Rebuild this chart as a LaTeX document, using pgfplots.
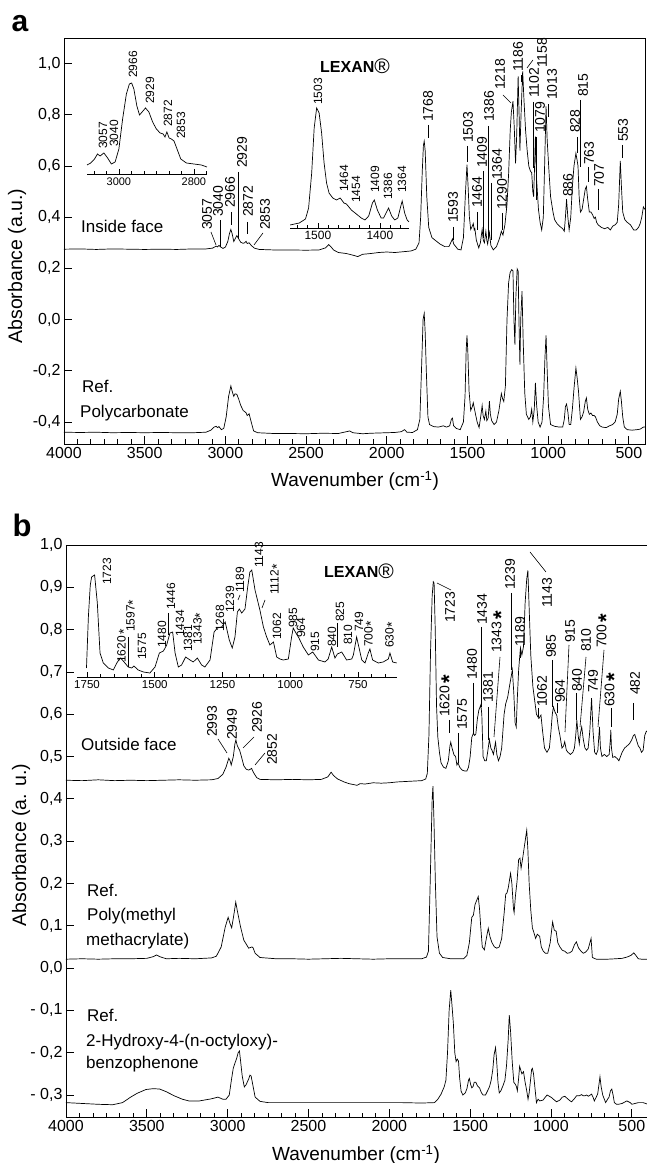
\documentclass[border=0pt]{standalone}
\usepackage{pgfplots}
\pgfplotsset{compat=1.18}
\usepackage{fontspec}
\setmainfont{Liberation Sans}
\newcommand{\fs}[1]{\fontsize{#1}{#1}\selectfont}
\newcommand{\bst}{\,{\fs{22}\bfseries\raisebox{-0.33em}{*}}}
\newcommand{\sst}{{\fs{14}\raisebox{-0.22em}{*}}}
\newcommand{\lexan}{\textbf{LEXAN}{\fs{21}\mdseries\raisebox{-0.04em}{®}}}
\begin{document}
\begin{tikzpicture}
\useasboundingbox (0,0) rectangle (646pt,1163pt);
\pgfplotsset{
 mainax/.style={scale only axis, anchor=south west, x dir=reverse,
   xmin=400, xmax=4000, xtick={500,1000,1500,2000,2500,3000,3500,4000},
   xticklabels={500,1000,1500,2000,2500,3000,3500,4000},
   minor x tick num=5, tick align=inside, xtick pos=bottom, ytick pos=left,
   major tick length=8pt, minor tick length=4.5pt,
   every tick/.style={black, line width=0.8pt},
   axis line style={line width=0.9pt},
   tick label style={font=\fs{16}}},
 insax/.style={scale only axis, anchor=south west, x dir=reverse,
   axis x line=bottom, axis y line=none, ymin=0,
   axis line style={-, line width=0.8pt}, tick align=inside,
   major tick length=5pt, minor tick length=3pt,
   every tick/.style={black, line width=0.7pt},
   tick label style={font=\fs{11}}},
 spec/.style={black, line width=0.7pt, mark=none}
}
% ---------------- panel a ----------------
\begin{axis}[mainax, at={(64pt,719pt)}, width=581pt, height=406pt,
  ymin=-0.486, ymax=1.1, ytick={-0.4,-0.2,0,0.2,0.4,0.6,0.8,1.0},
  yticklabels={{-0,4},{-0,2},{0,0},{0,2},{0,4},{0,6},{0,8},{1,0}}]
% Inside face
\addplot[spec] coordinates {
(4000,0.275)(3900,0.276)(3800,0.274)(3700,0.276)(3600,0.275)(3500,0.274)(3400,0.275)(3300,0.274)(3200,0.276)(3120,0.276)
(3080,0.279)(3065,0.284)(3057,0.287)(3048,0.284)(3040,0.290)(3030,0.284)(3015,0.278)(3000,0.283)(2985,0.305)(2975,0.335)
(2966,0.352)(2958,0.335)(2948,0.305)(2940,0.315)(2929,0.328)(2918,0.316)(2905,0.302)(2890,0.298)(2880,0.300)(2872,0.306)
(2865,0.297)(2853,0.300)(2840,0.290)(2820,0.279)(2790,0.274)(2700,0.272)(2600,0.272)(2500,0.271)(2420,0.272)(2380,0.280)
(2360,0.293)(2345,0.284)(2330,0.272)(2300,0.262)(2250,0.258)(2200,0.250)(2180,0.246)(2150,0.255)(2100,0.258)(2050,0.262)
(2000,0.264)(1950,0.262)(1900,0.265)(1850,0.268)(1820,0.275)(1800,0.300)(1790,0.40)(1780,0.58)(1773,0.68)(1768,0.697)
(1762,0.66)(1752,0.48)(1740,0.36)(1720,0.32)(1700,0.31)(1670,0.295)(1640,0.285)(1615,0.285)(1600,0.305)(1593,0.315)
(1585,0.295)(1560,0.275)(1540,0.272)(1525,0.32)(1512,0.50)(1503,0.605)(1496,0.52)(1488,0.40)(1480,0.352)(1470,0.365)
(1464,0.375)(1458,0.35)(1454,0.355)(1445,0.31)(1430,0.28)(1420,0.30)(1409,0.352)(1402,0.31)(1395,0.30)(1386,0.345)
(1380,0.31)(1375,0.295)(1364,0.34)(1355,0.29)(1340,0.272)(1320,0.285)(1300,0.32)(1290,0.345)(1280,0.33)(1268,0.37)
(1255,0.45)(1245,0.57)(1235,0.74)(1228,0.81)(1218,0.853)(1210,0.75)(1202,0.61)(1195,0.72)(1186,0.95)(1180,0.80)
(1175,0.66)(1168,0.80)(1158,0.97)(1150,0.86)(1140,0.74)(1130,0.66)(1120,0.60)(1110,0.58)(1102,0.574)(1095,0.50)
(1090,0.48)(1084,0.60)(1079,0.715)(1072,0.55)(1060,0.43)(1050,0.38)(1040,0.35)(1030,0.40)(1020,0.65)(1013,0.833)
(1006,0.70)(995,0.58)(985,0.48)(970,0.42)(960,0.39)(945,0.375)(930,0.365)(910,0.355)(900,0.345)(893,0.40)
(886,0.47)(878,0.40)(870,0.35)(860,0.40)(850,0.52)(840,0.60)(828,0.65)(820,0.62)(815,0.60)(808,0.48)
(800,0.42)(790,0.43)(780,0.47)(770,0.51)(763,0.52)(755,0.47)(745,0.42)(735,0.42)(725,0.41)(715,0.395)
(707,0.40)(700,0.38)(690,0.37)(670,0.36)(650,0.355)(630,0.36)(615,0.35)(600,0.365)(585,0.37)(572,0.38)
(563,0.45)(553,0.62)(546,0.52)(538,0.42)(525,0.39)(510,0.38)(490,0.37)(470,0.35)(455,0.35)(440,0.36)
(430,0.375)(420,0.40)(410,0.44)(400,0.43)};
% Ref. polycarbonate
\addplot[spec] coordinates {
(4000,-0.440)(3900,-0.441)(3800,-0.440)(3700,-0.442)(3600,-0.441)(3500,-0.442)(3400,-0.441)(3300,-0.442)(3200,-0.442)(3120,-0.440)
(3090,-0.432)(3070,-0.420)(3057,-0.417)(3048,-0.422)(3040,-0.418)(3025,-0.430)(3010,-0.425)(2995,-0.38)(2980,-0.30)(2966,-0.259)
(2958,-0.28)(2948,-0.30)(2940,-0.29)(2929,-0.292)(2918,-0.31)(2905,-0.335)(2890,-0.355)(2880,-0.36)(2872,-0.364)(2865,-0.375)
(2853,-0.368)(2840,-0.40)(2825,-0.435)(2800,-0.442)(2700,-0.445)(2600,-0.445)(2500,-0.446)(2400,-0.444)(2300,-0.445)(2250,-0.438)
(2230,-0.435)(2210,-0.442)(2150,-0.446)(2100,-0.444)(2000,-0.442)(1950,-0.441)(1910,-0.438)(1890,-0.430)(1875,-0.440)(1840,-0.441)
(1810,-0.43)(1795,-0.39)(1785,-0.20)(1775,0.0)(1768,0.024)(1762,-0.05)(1755,-0.20)(1745,-0.38)(1735,-0.41)(1710,-0.418)
(1680,-0.42)(1650,-0.415)(1630,-0.42)(1610,-0.415)(1600,-0.39)(1593,-0.385)(1586,-0.415)(1570,-0.425)(1545,-0.43)(1525,-0.40)
(1515,-0.30)(1508,-0.12)(1503,-0.062)(1498,-0.12)(1490,-0.28)(1480,-0.355)(1470,-0.34)(1464,-0.325)(1458,-0.345)(1450,-0.37)
(1440,-0.40)(1428,-0.422)(1418,-0.38)(1409,-0.336)(1403,-0.375)(1395,-0.39)(1386,-0.357)(1380,-0.395)(1372,-0.385)(1364,-0.319)
(1358,-0.37)(1350,-0.395)(1335,-0.41)(1320,-0.40)(1305,-0.355)(1290,-0.289)(1282,-0.31)(1275,-0.32)(1265,-0.26)(1255,0.0)
(1245,0.144)(1236,0.183)(1226,0.195)(1218,0.19)(1212,0.0)(1206,-0.098)(1200,0.09)(1192,0.198)(1186,0.19)(1181,0.0)
(1175,-0.176)(1170,0.0)(1162,0.111)(1155,-0.078)(1145,-0.286)(1135,-0.37)(1120,-0.39)(1110,-0.38)(1102,-0.35)(1095,-0.40)
(1086,-0.35)(1079,-0.247)(1072,-0.33)(1062,-0.40)(1050,-0.42)(1038,-0.40)(1028,-0.30)(1020,-0.15)(1013,-0.062)(1006,-0.20)
(998,-0.34)(985,-0.41)(960,-0.417)(930,-0.42)(910,-0.42)(900,-0.39)(893,-0.34)(886,-0.33)(878,-0.36)(870,-0.41)
(860,-0.41)(850,-0.35)(840,-0.27)(828,-0.189)(820,-0.23)(812,-0.28)(800,-0.39)(790,-0.38)(780,-0.36)(770,-0.32)
(763,-0.306)(755,-0.35)(745,-0.37)(735,-0.365)(725,-0.375)(715,-0.375)(707,-0.38)(695,-0.40)(680,-0.415)(665,-0.42)
(640,-0.422)(620,-0.415)(600,-0.41)(585,-0.40)(572,-0.37)(563,-0.31)(553,-0.28)(546,-0.32)(538,-0.38)(528,-0.42)
(510,-0.43)(480,-0.432)(450,-0.43)(430,-0.428)(410,-0.42)(400,-0.42)};
\end{axis}
% inset a1
\begin{axis}[insax, at={(87pt,989pt)}, width=120pt, height=100pt,
  xmin=2765, xmax=3085, ymax=100, xtick={2800,3000}, xticklabels={2800,3000},
  minor xtick={2766.67,2833.33,2866.67,2900,2933.33,2966.67,3033.33,3066.67}]
\addplot[spec] coordinates {
(3085,9)(3075,11)(3065,15)(3057,20)(3050,18)(3040,21)(3030,16)(3020,10)(3010,12)(3000,25)
(2990,55)(2980,80)(2972,90)(2966,91)(2960,85)(2952,68)(2945,59)(2938,62)(2929,66)(2920,62)
(2910,52)(2900,45)(2890,41)(2882,40)(2877,37)(2872,42)(2866,36)(2860,35)(2853,33)(2845,25)
(2835,15)(2820,11)(2800,10)(2780,9)(2765,7)};
\end{axis}
% inset a2
\begin{axis}[insax, at={(290pt,935pt)}, width=119pt, height=130pt,
  xmin=1353, xmax=1545, ymax=130, xtick={1400,1500}, xticklabels={1400,1500},
  tick label style={font=\fs{12}},
  minor xtick={1366.67,1383.33,1416.67,1433.33,1450,1466.67,1483.33,1516.67,1533.33}]
\addplot[spec] coordinates {
(1545,3)(1530,5)(1520,9)(1515,20)(1510,55)(1506,100)(1502,120)(1498,115)(1494,95)(1490,65)
(1486,45)(1482,35)(1476,30)(1470,28)(1464,30)(1458,25)(1454,24)(1446,18)(1438,14)(1430,10)
(1424,8)(1418,12)(1412,25)(1409,28)(1404,18)(1398,10)(1394,10)(1390,15)(1386,20)(1381,12)
(1376,8)(1371,10)(1367,20)(1364,27)(1360,15)(1356,8)(1353,6)};
\end{axis}
% ---------------- panel b ----------------
\begin{axis}[mainax, at={(66pt,46pt)}, width=582pt, height=572pt,
  ymin=-0.352, ymax=1.0,
  ytick={-0.3,-0.2,-0.1,0,0.1,0.2,0.3,0.4,0.5,0.6,0.7,0.8,0.9,1.0},
  yticklabels={{- 0,3},{- 0,2},{- 0,1},{0,0},{0,1},{0,2},{0,3},{0,4},{0,5},{0,6},{0,7},{0,8},{0,9},{1,0}}]
% Outside face
\addplot[spec] coordinates {
(4000,0.444)(3900,0.443)(3800,0.445)(3700,0.443)(3600,0.444)(3500,0.443)(3400,0.444)(3300,0.445)(3200,0.444)(3100,0.445)
(3060,0.448)(3030,0.458)(3010,0.475)(2993,0.496)(2985,0.49)(2978,0.480)(2965,0.50)(2955,0.53)(2949,0.539)(2940,0.525)
(2926,0.515)(2915,0.50)(2900,0.478)(2885,0.470)(2870,0.468)(2860,0.470)(2852,0.472)(2840,0.462)(2820,0.450)(2800,0.446)
(2700,0.445)(2600,0.446)(2500,0.445)(2420,0.446)(2380,0.452)(2360,0.463)(2345,0.455)(2320,0.447)(2280,0.440)(2250,0.436)
(2200,0.432)(2180,0.436)(2150,0.435)(2100,0.438)(2050,0.437)(2000,0.438)(1950,0.440)(1900,0.441)(1850,0.442)(1800,0.443)
(1775,0.447)(1765,0.46)(1755,0.55)(1745,0.75)(1735,0.88)(1728,0.913)(1723,0.91)(1716,0.80)(1708,0.62)(1700,0.546)
(1690,0.51)(1680,0.485)(1665,0.475)(1650,0.472)(1635,0.49)(1625,0.525)(1620,0.534)(1612,0.52)(1600,0.504)(1590,0.50)
(1582,0.48)(1575,0.485)(1565,0.475)(1550,0.468)(1535,0.466)(1520,0.466)(1510,0.475)(1500,0.50)(1490,0.545)(1480,0.555)
(1472,0.55)(1465,0.553)(1455,0.59)(1446,0.61)(1434,0.622)(1428,0.60)(1420,0.50)(1410,0.49)(1400,0.49)(1392,0.51)
(1381,0.54)(1372,0.52)(1365,0.515)(1356,0.505)(1343,0.534)(1335,0.505)(1325,0.49)(1315,0.50)(1305,0.52)(1290,0.60)
(1280,0.625)(1268,0.64)(1255,0.67)(1239,0.705)(1230,0.65)(1222,0.58)(1215,0.57)(1208,0.64)(1200,0.705)(1189,0.757)
(1180,0.74)(1170,0.76)(1160,0.863)(1150,0.92)(1143,0.94)(1135,0.85)(1125,0.74)(1112,0.665)(1100,0.63)(1090,0.60)
(1075,0.59)(1062,0.598)(1052,0.56)(1040,0.52)(1025,0.51)(1010,0.52)(1000,0.56)(992,0.60)(985,0.617)(975,0.605)
(964,0.597)(955,0.57)(945,0.55)(932,0.52)(922,0.525)(915,0.535)(905,0.515)(895,0.51)(880,0.505)(865,0.51)
(855,0.52)(847,0.55)(840,0.586)(832,0.55)(825,0.53)(818,0.555)(810,0.57)(800,0.54)(790,0.52)(780,0.515)
(770,0.52)(760,0.56)(749,0.638)(740,0.56)(730,0.51)(720,0.505)(710,0.515)(700,0.57)(694,0.52)(685,0.50)
(670,0.505)(655,0.50)(640,0.505)(632,0.545)(630,0.563)(626,0.52)(618,0.498)(605,0.50)(590,0.495)(580,0.49)
(570,0.50)(560,0.51)(545,0.52)(530,0.525)(515,0.53)(500,0.54)(490,0.55)(482,0.552)(472,0.54)(460,0.525)
(450,0.52)(440,0.51)(430,0.515)(420,0.55)(410,0.56)(400,0.557)};
% Ref. PMMA
\addplot[spec] coordinates {
(4000,0.021)(3900,0.022)(3800,0.021)(3700,0.022)(3600,0.022)(3500,0.023)(3460,0.027)(3440,0.031)(3420,0.027)(3380,0.022)
(3300,0.023)(3200,0.022)(3100,0.024)(3070,0.028)(3040,0.05)(3015,0.097)(2997,0.12)(2985,0.105)(2975,0.095)(2960,0.13)
(2950,0.156)(2940,0.135)(2920,0.097)(2900,0.066)(2870,0.047)(2850,0.050)(2843,0.048)(2830,0.035)(2800,0.025)(2700,0.022)
(2600,0.022)(2500,0.021)(2400,0.022)(2300,0.023)(2200,0.022)(2100,0.021)(2000,0.022)(1900,0.022)(1800,0.022)(1770,0.026)
(1758,0.04)(1748,0.19)(1735,0.40)(1730,0.430)(1724,0.35)(1715,0.20)(1705,0.074)(1690,0.035)(1670,0.025)(1620,0.022)
(1540,0.022)(1520,0.03)(1505,0.06)(1490,0.12)(1480,0.125)(1470,0.15)(1450,0.169)(1442,0.14)(1435,0.10)(1425,0.05)
(1412,0.043)(1400,0.07)(1388,0.094)(1378,0.075)(1365,0.06)(1350,0.05)(1335,0.047)(1320,0.05)(1305,0.07)(1290,0.129)
(1280,0.175)(1272,0.178)(1264,0.19)(1250,0.224)(1242,0.20)(1232,0.14)(1228,0.131)(1220,0.17)(1210,0.205)(1200,0.257)
(1192,0.26)(1185,0.236)(1175,0.26)(1160,0.30)(1150,0.326)(1143,0.28)(1135,0.20)(1125,0.137)(1115,0.095)(1105,0.083)
(1095,0.07)(1085,0.08)(1070,0.075)(1060,0.05)(1048,0.04)(1035,0.035)(1020,0.035)(1005,0.06)(990,0.109)(980,0.09)
(968,0.087)(958,0.06)(945,0.05)(930,0.042)(915,0.04)(900,0.035)(885,0.036)(870,0.04)(855,0.055)(843,0.062)
(830,0.048)(815,0.04)(800,0.035)(785,0.038)(770,0.045)(752,0.07)(744,0.025)(720,0.021)(700,0.021)(650,0.021)
(600,0.022)(560,0.023)(530,0.026)(505,0.03)(488,0.036)(475,0.03)(460,0.022)(440,0.021)(400,0.021)};
% Ref. benzophenone
\addplot[spec] coordinates {
(4000,-0.318)(3900,-0.320)(3800,-0.322)(3711,-0.323)(3650,-0.318)(3600,-0.305)(3560,-0.296)(3505,-0.287)(3460,-0.285)(3420,-0.286)
(3381,-0.292)(3330,-0.302)(3280,-0.310)(3240,-0.314)(3175,-0.314)(3100,-0.309)(3060,-0.305)(3030,-0.31)(3010,-0.31)(2990,-0.30)
(2975,-0.26)(2965,-0.236)(2955,-0.225)(2944,-0.213)(2935,-0.200)(2927,-0.196)(2920,-0.22)(2910,-0.255)(2897,-0.281)(2885,-0.275)
(2870,-0.262)(2862,-0.253)(2855,-0.255)(2845,-0.275)(2830,-0.305)(2800,-0.315)(2750,-0.318)(2600,-0.318)(2400,-0.318)(2200,-0.318)
(2000,-0.318)(1928,-0.318)(1800,-0.319)(1720,-0.318)(1700,-0.31)(1680,-0.298)(1660,-0.28)(1650,-0.265)(1640,-0.20)(1630,-0.10)
(1620,-0.052)(1612,-0.09)(1604,-0.13)(1595,-0.20)(1587,-0.221)(1580,-0.215)(1572,-0.22)(1565,-0.26)(1556,-0.291)(1545,-0.30)
(1530,-0.295)(1520,-0.285)(1510,-0.265)(1505,-0.261)(1497,-0.275)(1490,-0.283)(1482,-0.28)(1475,-0.27)(1465,-0.27)(1455,-0.278)
(1442,-0.283)(1430,-0.295)(1420,-0.30)(1405,-0.30)(1392,-0.29)(1380,-0.28)(1370,-0.265)(1360,-0.24)(1352,-0.205)(1343,-0.188)
(1336,-0.22)(1328,-0.27)(1320,-0.295)(1310,-0.29)(1297,-0.278)(1285,-0.265)(1275,-0.23)(1265,-0.17)(1258,-0.111)(1250,-0.15)
(1240,-0.22)(1230,-0.27)(1220,-0.275)(1214,-0.28)(1208,-0.29)(1200,-0.26)(1194,-0.232)(1188,-0.24)(1180,-0.25)(1170,-0.245)
(1160,-0.27)(1150,-0.29)(1142,-0.31)(1135,-0.295)(1128,-0.27)(1120,-0.24)(1115,-0.237)(1108,-0.25)(1100,-0.28)(1090,-0.318)
(1080,-0.31)(1070,-0.314)(1060,-0.313)(1049,-0.312)(1035,-0.305)(1024,-0.30)(1010,-0.303)(997,-0.306)(985,-0.310)(966,-0.316)
(945,-0.312)(930,-0.305)(914,-0.303)(900,-0.308)(885,-0.313)(873,-0.316)(858,-0.31)(842,-0.302)(825,-0.302)(811,-0.299)
(800,-0.302)(790,-0.302)(780,-0.300)(769,-0.303)(749,-0.298)(740,-0.305)(732,-0.314)(720,-0.305)(711,-0.297)(705,-0.28)
(697,-0.257)(690,-0.28)(680,-0.30)(670,-0.31)(662,-0.318)(650,-0.31)(641,-0.305)(632,-0.29)(624,-0.286)(616,-0.30)
(608,-0.318)(595,-0.322)(583,-0.322)(560,-0.32)(531,-0.314)(510,-0.318)(500,-0.322)(480,-0.32)(459,-0.318)(430,-0.318)(400,-0.322)};
\end{axis}
% inset b
\begin{axis}[insax, at={(77pt,486pt)}, width=320pt, height=120pt,
  xmin=606, xmax=1787, ymax=120, xtick={750,1000,1250,1500,1750},
  xticklabels={750,1000,1250,1500,1750},
  tick label style={font=\fs{11.5}},
  minor xtick={650,700,800,850,900,950,1050,1100,1150,1200,1300,1350,1400,1450,1550,1600,1650,1700}]
\addplot[spec] coordinates {
(1752,9)(1745,60)(1738,92)(1733,100)(1722,102)(1712,74)(1702,24)(1690,14)(1671,9)(1653,7)
(1638,15)(1626,19)(1610,14)(1598,10)(1585,9)(1577,11)(1561,7)(1542,5)(1518,4)(1499,10)
(1483,24)(1468,26)(1456,32)(1444,44)(1434,45)(1425,24)(1413,10)(1401,12)(1386,20)(1370,17)
(1358,15)(1343,19)(1327,12)(1315,10)(1296,17)(1281,45)(1269,49)(1253,50)(1240,55)(1225,37)
(1214,29)(1204,40)(1195,65)(1188,68)(1179,64)(1167,68)(1157,90)(1149,105)(1142,107)(1130,87)
(1112,67)(1099,50)(1087,40)(1075,32)(1062,35)(1050,20)(1038,18)(1026,17)(1007,18)(995,40)
(989,49)(979,44)(968,39)(952,30)(933,22)(917,25)(896,17)(872,15)(860,18)(847,30)
(835,19)(826,23)(810,25)(792,17)(773,18)(767,22)(755,40)(736,17)(724,14)(712,24)
(706,28)(696,17)(675,14)(657,15)(638,18)(632,24)(622,15)(607,14)};
\end{axis}
% ---------------- text (pixel coordinates) ----------------
\begin{scope}[x=1pt,y=-1pt,yshift=1163pt,
  lab/.style={rotate=90, anchor=west, inner sep=0pt, font=\fs{14}},
  ilab/.style={rotate=90, anchor=west, inner sep=0pt, font=\fs{12}},
  txt/.style={anchor=west, inner sep=0pt, font=\fs{17}, text height=0.72em, text depth=0.2em},
  ld/.style={line width=0.6pt}]
\node[font=\fs{30}\bfseries] at (20,24) {a};
\node[font=\fs{31}\bfseries] at (22,525) {b};
\node[rotate=90, font=\fs{19.5}] at (17,266) {Absorbance (a.u.)};
\node[rotate=90, font=\fs{19.5}] at (21,845) {Absorbance (a. u.)};
\node[font=\fs{19}] at (355,481) {Wavenumber (cm\textsuperscript{-1})};
\node[font=\fs{19}] at (356,1155) {Wavenumber (cm\textsuperscript{-1})};
\node[font=\fs{16}] at (355,66) {\lexan};
\node[font=\fs{16}] at (359,571) {\lexan};
\node[txt] at (81,230) {Inside face};
\node[txt] at (82,390) {Ref.};
\node[txt] at (80,415) {Polycarbonate};
\node[txt] at (81,748) {Outside face};
\node[txt] at (87,894) {Ref.};
\node[txt] at (87,918) {Poly(methyl};
\node[txt] at (86,943) {methacrylate)};
\node[txt] at (87,1019) {Ref.};
\node[txt] at (86,1044) {2-Hydroxy-4-(n-octyloxy)-};
\node[txt] at (86,1066) {benzophenone};
% panel a peak labels
\foreach \t/\x/\y in {3057/207/230,3040/218/217,2966/230/208,2929/242/168,2872/248/217,2853/265/230,
  1768/428/122,1593/453/223,1503/468/143,1464/477/208,1409/482/168,1386/489/122,1364/497/180,1290/502/210,
  1218/500/90,1186/518/72,1158/542/68,1102/534/98,1013/552/100,1079/540/133,886/568/197,828/575/133,
  815/583/97,763/589/165,707/599/187,553/623/142}
  \node[lab] at (\x,\y) {\t};
\foreach \a/\b/\c/\d in {211/232/216/245,220/220/220/247,231/212/231/225,238/172/238/238,247/222/247/234,263/233/254/245,
  428/125/428/138,453/227/453/240,467/146/467/162,477/212/477/230,483/171/483/238,488/126/488/238,491/183/491/240,
  502/213/502/230,503/95/511/103,521/75/521/82,533/60/527/68,533/102/533/168,548/104/548/117,536/137/536/200,
  577/137/577/153,580/100/580/167,588/167/588/182,598/189/598/210,622/145/622/158}
  \draw[ld] (\a,\b) -- (\c,\d);
% inset a labels
\foreach \t/\x/\y in {3057/103/149,3040/114/147,2966/133/78,2929/150/104,2872/168/127,2853/181/139,
  1503/318/105,1464/344/192,1454/356/203,1409/375/193,1386/388/200,1364/402/193}
  \node[ilab] at (\x,\y) {\t};
% panel b peak labels
\foreach \t/\x/\y in {2993/212/737,2949/232/740,2926/257/733,2852/272/765,1723/450/623,1575/462/730,
  1480/472/680,1434/482/625,1381/488/703,1239/510/590,1189/520/647,1143/547/608,1062/542/707,
  985/551/658,964/560/703,915/570/643,840/577/692,810/586/652,749/593/693,482/635/695}
  \node[lab] at (\x,\y) {\t};
\node[lab] at (448,717) {1620\bst};
\node[lab] at (500,653) {1343\bst};
\node[lab] at (605,648) {700\bst};
\node[lab] at (613,707) {630\bst};
\foreach \a/\b/\c/\d in {218/739/227/753,254/737/243/748,265/753/255/765,437/583/451/590,449/720/449/733,
  458/733/458/763,473/683/473/733,481/627/481/707,488/707/488/740,500/657/494/737,511/593/511/670,
  520/649/520/658,530/552/546/572,538/708/538/717,552/660/552/707,557/703/557/713,569/645/565/732,
  576/693/576/720,586/657/580/727,604/650/598/727,611/708/611/727,633/703/633/720}
  \draw[ld] (\a,\b) -- (\c,\d);
% inset b labels
\foreach \t/\x/\y in {1723/107/585,1575/142/660,1480/162/648,1446/171/610,1434/180/637,1381/188/652,
  1268/220/632,1239/230/613,1189/240/593,1143/259/568,1062/277/640,985/293/628,964/301/638,915/315/652,
  840/332/647,825/340/622,810/348/645,749/359/632}
  \node[ilab] at (\x,\y) {\t};
\node[ilab] at (123,663) {1620\,\sst};
\node[ilab] at (132,632) {1597\sst};
\node[ilab] at (199,645) {1343\sst};
\node[ilab] at (276,595) {1112\sst};
\node[ilab] at (370,647) {700\sst};
\node[ilab] at (391,648) {630\sst};
\foreach \a/\b/\c/\d in {128/637/128/667,168/613/168/635,337/623/337/647,262/608/265/600,240/595/238/600}
  \draw[ld] (\a,\b) -- (\c,\d);
\end{scope}
\end{tikzpicture}
\end{document}
